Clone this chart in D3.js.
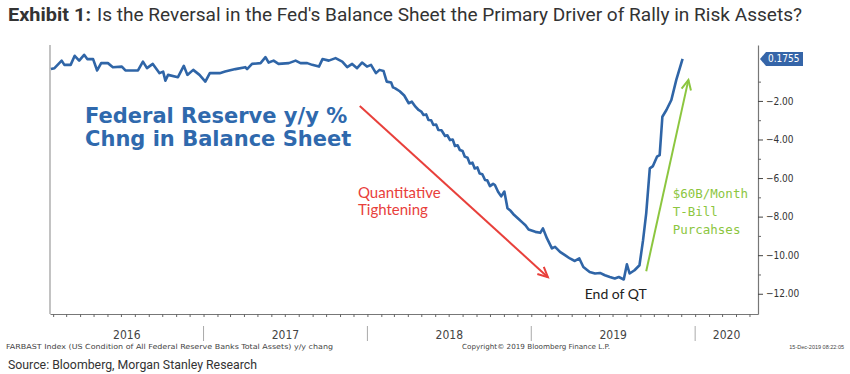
<!DOCTYPE html>
<html>
<head>
<meta charset="utf-8">
<script src="https://cdn.jsdelivr.net/npm/d3@7"></script>
<style>
  body { margin: 0; background: #fff; }
</style>
</head>
<body>
<div id="chart"></div>
<script>
// DATA
//=====================
var dates = [
  "2016-01-27","2016-02-04","2016-02-20","2016-02-26","2016-03-11","2016-03-20","2016-03-30","2016-04-10",
  "2016-04-17","2016-04-30","2016-05-09","2016-05-18","2016-06-02","2016-06-13","2016-07-03","2016-07-11",
  "2016-08-08","2016-08-19","2016-08-28","2016-09-10","2016-09-25","2016-10-03","2016-10-08","2016-10-14",
  "2016-11-05","2016-11-18","2016-11-26","2016-12-09","2016-12-23","2017-01-05","2017-01-15","2017-02-06",
  "2017-02-18","2017-03-13","2017-04-04","2017-04-08","2017-04-19","2017-05-08","2017-05-19","2017-05-26",
  "2017-06-06","2017-06-17","2017-07-10","2017-07-25","2017-08-05","2017-08-20","2017-08-31","2017-09-15",
  "2017-09-23","2017-10-07","2017-10-22","2017-11-06","2017-11-17","2017-11-28","2017-12-09","2017-12-20",
  "2017-12-31","2018-01-09","2018-01-20","2018-01-28","2018-02-06","2018-02-13","2018-02-23","2018-02-27",
  "2018-03-04","2018-03-14","2018-03-24","2018-04-03","2018-04-10","2018-04-18","2018-04-25","2018-05-01",
  "2018-05-06","2018-05-12","2018-05-17","2018-05-23","2018-05-28","2018-06-03","2018-06-08","2018-06-15",
  "2018-06-23","2018-06-28","2018-07-04","2018-07-10","2018-07-15","2018-07-21","2018-07-26","2018-08-01",
  "2018-08-06","2018-08-12","2018-08-17","2018-08-23","2018-08-28","2018-09-03","2018-09-08","2018-09-14",
  "2018-09-20","2018-09-25","2018-10-01","2018-10-08","2018-10-12","2018-10-19","2018-10-26","2018-11-02",
  "2018-11-09","2018-11-16","2018-11-24","2018-12-05","2018-12-12","2018-12-19","2018-12-26","2019-01-10",
  "2019-01-21","2019-01-27","2019-02-05","2019-02-16","2019-02-23","2019-03-06","2019-03-17","2019-03-28",
  "2019-04-08","2019-04-18","2019-04-27","2019-05-11","2019-05-23","2019-06-03","2019-06-14","2019-06-25",
  "2019-07-06","2019-07-15","2019-07-26","2019-08-02","2019-08-08","2019-08-19","2019-08-30","2019-09-07",
  "2019-09-14","2019-09-22","2019-09-29","2019-10-08","2019-10-14","2019-10-20","2019-10-29","2019-11-09",
  "2019-11-20","2019-12-04"
];
var values = [
  -0.35,-0.30,0.09,-0.13,-0.13,0.34,0.09,0.39,
  0.17,0.17,-0.42,-0.04,-0.04,-0.25,-0.22,-0.42,
  -0.42,0.04,-0.30,-0.08,-0.56,-0.48,-0.95,-0.65,
  -0.77,-0.18,-0.65,-0.39,-0.65,-1.00,-0.56,-0.56,
  -0.48,-0.35,-0.25,-0.35,-0.08,-0.04,0.27,-0.01,
  0.09,-0.08,-0.04,0.09,-0.04,-0.04,-0.13,-0.22,
  0.17,0.09,0.22,0.04,-0.25,-0.08,-0.30,-0.01,
  -0.22,-0.13,-0.56,-0.39,-0.45,-1.00,-1.05,-1.30,
  -1.35,-1.50,-1.72,-2.12,-2.04,-2.30,-2.47,-2.55,
  -2.73,-2.70,-2.99,-3.00,-3.25,-3.22,-3.51,-3.52,
  -3.82,-3.78,-4.03,-4.00,-4.34,-4.30,-4.55,-4.60,
  -4.89,-4.95,-5.24,-5.20,-5.50,-5.45,-5.76,-5.80,
  -6.10,-6.12,-6.42,-6.30,-6.36,-6.71,-6.95,-6.70,
  -7.57,-7.70,-7.92,-8.15,-8.30,-8.45,-8.67,-8.79,
  -8.84,-8.61,-9.13,-9.65,-9.57,-9.83,-10.00,-10.17,
  -10.30,-10.17,-10.61,-10.87,-10.95,-10.92,-11.04,-11.13,
  -11.21,-11.13,-11.26,-10.47,-10.95,-10.78,-10.52,-9.22,
  -7.83,-5.50,-5.38,-4.89,-4.81,-2.82,-2.47,-1.95,
  -0.91,0.1755
];
var majorTicks = [-2, -4, -6, -8, -10, -12];
var minorTicks = [-1, -3, -5, -7, -9, -11];
var yearLabels = ["2016", "2017", "2018", "2019", "2020"];
var lastValue = 0.1755;

var svgWidth = 850;
var svgHeight = 374;
var margin = { top: 45, right: 92, bottom: 60, left: 50 };
var width = svgWidth - margin.left - margin.right;
var height = svgHeight - margin.top - margin.bottom;

var svg = d3.select("#chart")
  .append("svg")
  .attr("width", svgWidth)
  .attr("height", svgHeight);

/// TITLE
//=====================
svg.append("text")
  .attr("x", 8).attr("y", 21)
  .attr("font-family", "Roboto, sans-serif")
  .attr("font-weight", "700")
  .attr("font-size", 17.5)
  .attr("fill", "#333")
  .attr("textLength", 83).attr("lengthAdjust", "spacingAndGlyphs")
  .text("Exhibit 1:");

svg.append("text")
  .attr("x", 97).attr("y", 21)
  .attr("font-family", "Roboto, sans-serif")
  .attr("font-size", 17.5)
  .attr("fill", "#333")
  .attr("textLength", 705).attr("lengthAdjust", "spacingAndGlyphs")
  .text("Is the Reversal in the Fed's Balance Sheet the Primary Driver of Rally in Risk Assets?");

var chartGroup = svg.append("g")
  .attr("transform", `translate(${margin.left}, ${margin.top})`);

var parseTime = d3.timeParse("%Y-%m-%d");
var series = dates.map(function(d, i) { return { date: parseTime(d), value: values[i] }; });

/// SCALES
//=====================
var xTimeScale = d3.scaleTime()
  .domain([parseTime("2016-01-25"), parseTime("2020-05-20")])
  .range([0, width]);

var yLinearScale = d3.scaleLinear()
  .domain([-13.05, 0.9])
  .range([height, 0]);

/// FRAME + AXES
//=====================
chartGroup.append("line")
  .attr("x1", 0).attr("x2", 0).attr("y1", 0).attr("y2", height)
  .attr("stroke", "#9a9a9a").attr("stroke-width", 1.2);

var xAxis = d3.axisBottom(xTimeScale)
  .ticks(d3.timeMonth.every(1))
  .tickSize(3)
  .tickSizeOuter(0)
  .tickFormat("");

var xg = chartGroup.append("g")
  .attr("transform", `translate(0, ${height})`)
  .call(xAxis);
xg.select(".domain").attr("stroke", "#777").attr("stroke-width", 1.2);
xg.selectAll(".tick line").attr("stroke", "#666");

var yAxis = d3.axisRight(yLinearScale)
  .tickValues(majorTicks)
  .tickSize(5)
  .tickSizeOuter(0)
  .tickPadding(3)
  .tickFormat(d3.format(".2f"));

var yg = chartGroup.append("g")
  .attr("transform", `translate(${width}, 0)`)
  .call(yAxis);
yg.select(".domain").attr("stroke", "#777").attr("stroke-width", 1.2);
yg.selectAll(".tick line").attr("stroke", "#444");
yg.selectAll(".tick text")
  .attr("font-family", "'DejaVu Sans Condensed', 'Liberation Sans Narrow', 'DejaVu Sans', sans-serif")
  .attr("font-size", 10)
  .attr("fill", "#333");

var yMinor = d3.axisRight(yLinearScale)
  .tickValues(minorTicks)
  .tickSize(3)
  .tickSizeOuter(0)
  .tickFormat("");
var ym = chartGroup.append("g")
  .attr("transform", `translate(${width}, 0)`)
  .call(yMinor);
ym.select(".domain").remove();
ym.selectAll(".tick line").attr("stroke", "#666");

/// YEAR LABELS + SEPARATORS
//=====================
var xDomain = xTimeScale.domain();
var years = yearLabels.map(function(label) {
  var start = new Date(+label, 0, 1);
  var end = new Date(+label + 1, 0, 1);
  var a = start < xDomain[0] ? xDomain[0] : start;
  var b = end > xDomain[1] ? xDomain[1] : end;
  return { label: label, start: start, mid: (xTimeScale(a) + xTimeScale(b)) / 2 };
});

chartGroup.selectAll(".year-sep")
  .data(years.filter(function(d) { return d.start > xDomain[0]; }))
  .enter()
  .append("line")
  .attr("class", "year-sep")
  .attr("x1", d => xTimeScale(d.start)).attr("x2", d => xTimeScale(d.start))
  .attr("y1", height + 12).attr("y2", height + 27)
  .attr("stroke", "#aaa").attr("stroke-width", 1);

chartGroup.selectAll(".year-label")
  .data(years)
  .enter()
  .append("text")
  .attr("class", "year-label")
  .attr("x", d => d.mid)
  .attr("y", height + 25)
  .attr("text-anchor", "middle")
  .attr("font-family", "'DejaVu Sans Condensed', 'Liberation Sans Narrow', 'DejaVu Sans', sans-serif")
  .attr("font-size", 12)
  .attr("fill", "#444")
  .text(d => d.label);

/// LINE
//=====================
var line = d3.line()
  .x(d => xTimeScale(d.date))
  .y(d => yLinearScale(d.value));

chartGroup.append("path")
  .datum(series)
  .attr("fill", "none")
  .attr("stroke", "#2f65a7")
  .attr("stroke-width", 2.6)
  .attr("stroke-linejoin", "round")
  .attr("d", line);

/// LAST VALUE TAG
//=====================
var tag = chartGroup.append("g")
  .attr("transform", `translate(${width + 1}, ${yLinearScale(lastValue)})`);
tag.append("path")
  .attr("d", "M1,0 L7,-7 L44,-7 L44,7 L7,7 Z")
  .attr("fill", "#3565a8");
tag.append("text")
  .attr("x", 9).attr("y", 3.5)
  .attr("font-family", "'DejaVu Sans Condensed', 'DejaVu Sans', sans-serif")
  .attr("font-size", 10)
  .attr("fill", "#fff")
  .text(d3.format(".4f")(lastValue));

/// ANNOTATIONS
//=====================
function px(dateStr) { return xTimeScale(parseTime(dateStr)); }

chartGroup.append("text")
  .attr("x", px("2016-04-12"))
  .attr("font-family", "'DejaVu Sans', Verdana, sans-serif")
  .attr("font-weight", "700")
  .attr("font-size", 21)
  .attr("fill", "#2f69ad")
  .selectAll("tspan")
  .data(["Federal Reserve y/y %", "Chng in Balance Sheet"])
  .enter()
  .append("tspan")
  .attr("x", px("2016-04-12"))
  .attr("y", (d, i) => yLinearScale(-3.14 - i * 1.19))
  .text(d => d);

function arrow(color, from, to) {
  var x1 = px(from[0]), y1 = yLinearScale(from[1]);
  var x2 = px(to[0]), y2 = yLinearScale(to[1]);
  var ang = Math.atan2(y2 - y1, x2 - x1);
  var len = 11, spread = 0.45;
  chartGroup.append("line")
    .attr("x1", x1).attr("y1", y1).attr("x2", x2).attr("y2", y2)
    .attr("stroke", color).attr("stroke-width", 2);
  chartGroup.append("path")
    .attr("d", `M${x2 - len * Math.cos(ang - spread)},${y2 - len * Math.sin(ang - spread)} L${x2},${y2} L${x2 - len * Math.cos(ang + spread)},${y2 - len * Math.sin(ang + spread)}`)
    .attr("fill", "none").attr("stroke", color).attr("stroke-width", 2);
}

arrow("#e8403b", ["2017-12-15", -2.26], ["2019-02-07", -11.14]);
arrow("#8cc63f", ["2019-09-14", -10.83], ["2019-12-17", -0.91]);

chartGroup.append("text")
  .attr("font-family", "Lato, 'Open Sans', sans-serif")
  .attr("font-size", 15)
  .attr("fill", "#e8403b")
  .selectAll("tspan")
  .data(["Quantitative", "Tightening"])
  .enter()
  .append("tspan")
  .attr("x", px("2017-12-11"))
  .attr("y", (d, i) => yLinearScale(-7.04 - i * 0.9))
  .text(d => d);

chartGroup.append("text")
  .attr("font-family", "'DejaVu Sans Mono', 'Liberation Mono', monospace")
  .attr("font-size", 12.5)
  .attr("fill", "#8cc63f")
  .selectAll("tspan")
  .data(["$60B/Month", "T-Bill", "Purcahses"])
  .enter()
  .append("tspan")
  .attr("x", px("2019-11-12"))
  .attr("y", (d, i) => yLinearScale(-7.04 - i * 0.93))
  .text(d => d);

chartGroup.append("text")
  .attr("x", px("2019-04-30"))
  .attr("y", yLinearScale(-12.29))
  .attr("font-family", "Lato, 'Open Sans', sans-serif")
  .attr("font-size", 14)
  .attr("fill", "#222")
  .text("End of QT");

/// FOOTER
//=====================
var small = "'DejaVu Sans Condensed', 'DejaVu Sans', sans-serif";
svg.append("text")
  .attr("x", 6).attr("y", 349)
  .attr("font-family", small).attr("font-size", 7)
  .attr("fill", "#444")
  .attr("textLength", 327).attr("lengthAdjust", "spacingAndGlyphs")
  .text("FARBAST Index (US Condition of All Federal Reserve Banks Total Assets) y/y chang");

svg.append("text")
  .attr("x", 462).attr("y", 349)
  .attr("font-family", small).attr("font-size", 7)
  .attr("fill", "#444")
  .attr("textLength", 148).attr("lengthAdjust", "spacingAndGlyphs")
  .text("Copyright\u00a9 2019 Bloomberg Finance L.P.");

svg.append("text")
  .attr("x", 844).attr("y", 349)
  .attr("text-anchor", "end")
  .attr("font-family", "'Liberation Sans', Arial, sans-serif").attr("font-size", 5.5)
  .attr("fill", "#444")
  .text("15-Dec-2019 08:22:05");

svg.append("text")
  .attr("x", 8).attr("y", 369)
  .attr("font-family", "Roboto, sans-serif")
  .attr("font-size", 13)
  .attr("fill", "#333")
  .attr("textLength", 249).attr("lengthAdjust", "spacingAndGlyphs")
  .text("Source: Bloomberg, Morgan Stanley Research");
</script>
</body>
</html>
